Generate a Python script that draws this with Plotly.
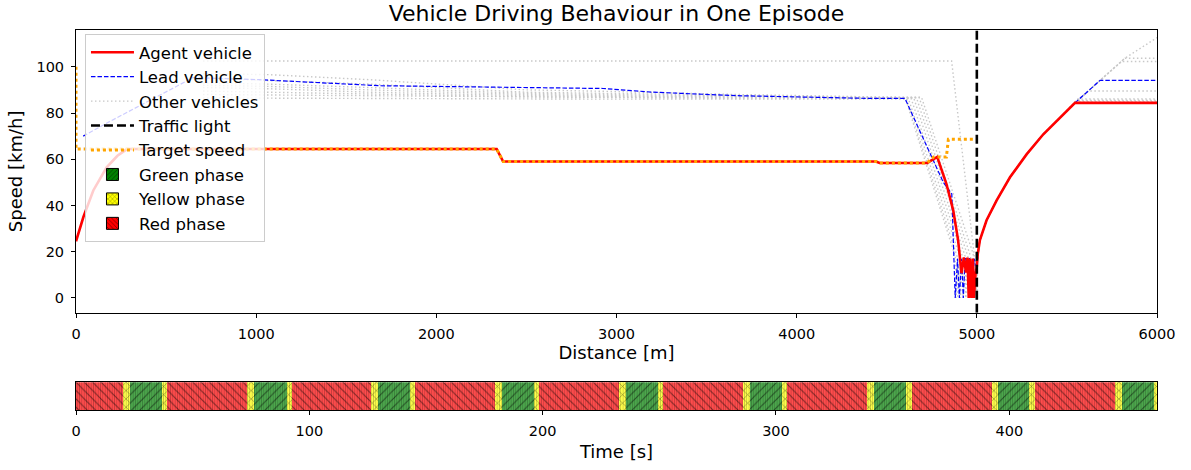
import plotly.graph_objects as go

# ------------------------------------------------------------------ data
# Agent vehicle (distance [m], speed [km/h])
agent_d = [0, 41, 96, 170, 230, 283, 2335, 2371, 4440, 4460, 4725, 4780, 4831, 4869,
           4896, 4915, 4928, 4940, 4948, 4955, 4962, 4970, 4978, 4984, 4992, 5000,
           5005, 5017, 5054, 5110, 5184, 5277, 5369, 5462, 5545, 6000]
agent_v = [24.5, 35, 46.5, 56.5, 61.5, 64.4, 64.4, 59.0, 59.0, 58.4, 58.4, 61.0, 49.4, 37.9,
           25.0, 10.7, 17.5, 11.0, 17.5, 0, 17, 0, 17, 0, 10, 13.6,
           19, 25, 33.6, 42.2, 52.2, 62.2, 70.8, 78, 84.4, 84.4]

# Lead vehicle
lead_d = [40, 189, 650, 1021, 1687, 2520, 2925, 3203, 3667, 4407, 4601, 4814, 4861, 4880,
          4893, 4903, 4915, 4925, 4935, 4960, 4975, 4985, 5000, 5005, 5017, 5054, 5110,
          5184, 5277, 5369, 5462, 5545, 5684, 6000]
lead_v = [70, 76.4, 95.3, 94.4, 91.8, 90.8, 90.6, 89.0, 87.5, 86.3, 86.3, 50, 45, 0,
          17, 0, 17, 0, 17, 17, 0, 17, 13, 19, 25, 33.6, 42.2,
          52.2, 62.2, 70.8, 78, 84.4, 94.1, 94.1]

# Other vehicles
other1_d = [705, 4860, 4985, 4990, 4996, 5000, 5005, 5017, 5054, 5110, 5184, 5277, 5369,
            5462, 5545, 5684, 5822, 5980, 6000]
other1_v = [102.5, 102.5, 19, 0, 16, 13, 19, 25, 33.6, 42.2, 52.2, 62.2, 70.8,
            78, 84.4, 94.1, 103.7, 111.6, 112.6]
other2_d = [705, 1066, 1632, 2500, 2925, 3667, 4400, 4693, 4980, 4984, 4992, 4997, 5003,
            5017, 5054, 5110, 5184, 5277, 5369, 5462, 5545, 5684, 5822, 6000]
other2_v = [97, 96.6, 94.4, 90, 89.4, 88, 87, 86.8, 19, 0, 16, 0, 16,
            25, 33.6, 42.2, 52.2, 62.2, 70.8, 78, 84.4, 94.1, 103.7, 103.7]
other3_d = [705, 1066, 1632, 2500, 2925, 3667, 4400, 4680, 4965, 4969, 4980, 4993, 4997, 5003,
            5017, 5054, 5110, 5184, 5277, 5369, 5462, 5545, 5684, 5804, 6000]
other3_v = [95, 94, 92.5, 89, 88.5, 87.5, 86.8, 86.7, 18, 0, 16, 16, 0, 16,
            25, 33.6, 42.2, 52.2, 62.2, 70.8, 78, 84.4, 94.1, 102.3, 102.3]
other4_d = [705, 1066, 1632, 2500, 2925, 3667, 4400, 4665, 4950, 4954, 4964, 4993, 4997, 5003,
            5017, 5054, 5110, 5184, 5277, 5369, 5462, 5545, 5620, 6000]
other4_v = [93, 92.5, 91, 88.5, 88, 87.2, 86.6, 86.6, 18, 0, 16, 16, 0, 16,
            25, 33.6, 42.2, 52.2, 62.2, 70.8, 78, 84.4, 89.5, 89.5]
other5_d = [705, 1066, 1632, 2500, 2925, 3667, 4400, 4650, 4935, 4939, 4950, 4993, 4997, 5003,
            5017, 5054, 5110, 5184, 5277, 5369, 5462, 5545, 5561, 6000]
other5_v = [92, 91.5, 90, 88, 87.5, 87, 86.5, 86.5, 18, 0, 16, 16, 0, 16,
            25, 33.6, 42.2, 52.2, 62.2, 70.8, 78, 84.4, 86.1, 86.1]
other6_d = [705, 1066, 1632, 2500, 2925, 3667, 4400, 4635, 4920, 4924, 4935, 4993, 4997, 5003,
            5017, 5054, 5110, 5184, 5277, 5369, 5462, 5545, 5552, 6000]
other6_v = [91, 90.5, 89, 87.5, 87.2, 86.8, 86.4, 86.4, 18, 0, 16, 16, 0, 16,
            25, 33.6, 42.2, 52.2, 62.2, 70.8, 78, 84.4, 85.3, 85.3]
other7_d = [705, 1066, 1632, 2500, 2925, 3667, 4400, 4620, 4905, 4909, 4920, 4993, 4997, 5003,
            5017, 5054, 5110, 5184, 5277, 5369, 5462, 5545, 5549, 6000]
other7_v = [89.5, 89, 88, 87, 86.8, 86.5, 86.3, 86.3, 18, 0, 16, 16, 0, 16,
            25, 33.6, 42.2, 52.2, 62.2, 70.8, 78, 84.4, 84.9, 84.9]
other8_d = [705, 1066, 1632, 2500, 2925, 3667, 4400, 4610, 4890, 4894, 4905, 4993, 4997, 5003,
            5017, 5054, 5110, 5184, 5277, 5369, 5462, 5545, 6000]
other8_v = [88, 87.8, 87.3, 86.8, 86.5, 86.3, 86.2, 86.2, 18, 0, 16, 16, 0, 16,
            25, 33.6, 42.2, 52.2, 62.2, 70.8, 78, 84.4, 84.4]
other9_d = [705, 1066, 1632, 2500, 2925, 3667, 4400, 4605, 4880, 4884, 4895, 4993, 4997, 5003,
            5017, 5054, 5110, 5184, 5277, 5369, 5462, 5545, 5555, 6000]
other9_v = [86.5, 86.4, 86.2, 86, 86, 86, 86, 86, 18, 0, 16, 16, 0, 16,
            25, 33.6, 42.2, 52.2, 62.2, 70.8, 78, 84.4, 85.6, 85.6]
others_d = [other1_d, other2_d, other3_d, other4_d, other5_d, other6_d, other7_d, other8_d, other9_d]
others_v = [other1_v, other2_v, other3_v, other4_v, other5_v, other6_v, other7_v, other8_v, other9_v]

# Target speed
target_d = [0, 0, 2335, 2371, 4440, 4460, 4723, 4760, 4831, 4842, 4980]
target_v = [100, 64.4, 64.4, 59.0, 59.0, 58.4, 58.4, 61.0, 61.0, 68.6, 68.6]

# Traffic light position [m]
traffic_light_d = 5000

# Traffic light phases over time [s]
phase_bounds = [0, 20.3, 23.1, 37.0, 39.1, 73.4, 76.4, 90.3, 92.4, 126.4, 129.3, 143.1,
                145.3, 179.6, 182.7, 196.3, 198.6, 232.7, 235.7, 249.3, 251.7, 286.0,
                288.9, 302.4, 304.9, 339.2, 342.0, 355.6, 358.2, 392.5, 395.0, 408.6,
                411.0, 445.4, 448.2, 461.8, 463.3]
phase_labels = ["R",
                "Y", "G", "Y", "R", "Y", "G", "Y", "R", "Y", "G", "Y", "R",
                "Y", "G", "Y", "R", "Y", "G", "Y", "R", "Y", "G", "Y", "R",
                "Y", "G", "Y", "R", "Y", "G", "Y", "R",
                "Y", "G", "Y"]

# axis settings
dist_ticks = [0, 1000, 2000, 3000, 4000, 5000, 6000]
speed_ticks = [0, 20, 40, 60, 80, 100]
time_ticks = [0, 100, 200, 300, 400]
speed_range = [-6.4, 115.9]
dist_range = [0, 6000]

# ------------------------------------------------------------------ figure
FONT = "DejaVu Sans"
fig = go.Figure()

# other vehicles
for i, (d, v) in enumerate(zip(others_d, others_v)):
    fig.add_trace(go.Scatter(
        x=d, y=v, mode="lines", name="Other vehicles",
        line=dict(color="#c8c8c8", width=1.4, dash="1.5px,2.5px"),
        legendgroup="others", showlegend=(i == 0), legendrank=3,
        xaxis="x", yaxis="y"))

# lead vehicle
fig.add_trace(go.Scatter(
    x=lead_d, y=lead_v, mode="lines", name="Lead vehicle",
    line=dict(color="#0000ff", width=1.2, dash="4.5px,2px"),
    legendgroup="lead", legendrank=2, xaxis="x", yaxis="y"))

# agent
fig.add_trace(go.Scatter(
    x=agent_d, y=agent_v, mode="lines", name="Agent vehicle",
    line=dict(color="#ff0000", width=2.6),
    legendgroup="agent", legendrank=1, xaxis="x", yaxis="y"))

# target speed
fig.add_trace(go.Scatter(
    x=target_d, y=target_v, mode="lines", name="Target speed",
    line=dict(color="#ffa500", width=3, dash="3px,3px"),
    legendgroup="target", legendrank=5, xaxis="x", yaxis="y"))

# traffic light
fig.add_trace(go.Scatter(
    x=[traffic_light_d, traffic_light_d], y=speed_range, mode="lines", name="Traffic light",
    line=dict(color="#000000", width=2.6, dash="9px,4px"),
    legendgroup="light", legendrank=4, xaxis="x", yaxis="y"))

# phase bars
phase_style = {
    "G": dict(name="Green phase", color="rgba(0,128,0,0.7)", legend_color="#008000", shape="/", rank=6),
    "Y": dict(name="Yellow phase", color="rgba(255,255,0,0.7)", legend_color="#ffff00", shape="x", rank=7),
    "R": dict(name="Red phase", color="rgba(255,0,0,0.7)", legend_color="#ff0000", shape="\\", rank=8),
}
PAT_SIZE = 5.9
for key in ["G", "Y", "R"]:
    st = phase_style[key]
    xs, ws = [], []
    for j, lab in enumerate(phase_labels):
        if lab == key:
            a, b = phase_bounds[j], phase_bounds[j + 1]
            xs.append((a + b) / 2)
            ws.append(b - a)
    fig.add_trace(go.Bar(
        x=xs, y=[1] * len(xs), width=ws, base=0, name=st["name"], showlegend=False,
        marker=dict(color=st["color"], line=dict(width=0),
                    pattern=dict(shape=st["shape"], fgcolor="black", size=PAT_SIZE,
                                 solidity=0.17)),
        xaxis="x2", yaxis="y2", hoverinfo="skip"))
    # legend entry with full colour
    fig.add_trace(go.Bar(
        x=[None], y=[None], name=st["name"], legendgroup=key, legendrank=st["rank"],
        marker=dict(color=st["legend_color"], line=dict(width=1, color="black"),
                    pattern=dict(shape=st["shape"], fgcolor="black", size=4, solidity=0.25)),
        xaxis="x2", yaxis="y2"))

# fine per-second stripes overlay
fig.add_trace(go.Bar(
    x=[(phase_bounds[0] + phase_bounds[-1]) / 2], y=[1],
    width=[phase_bounds[-1] - phase_bounds[0]], base=0, showlegend=False,
    marker=dict(color="rgba(0,0,0,0)", line=dict(width=0),
                pattern=dict(shape="|", fgcolor="black", fgopacity=0.22,
                             size=2.333, solidity=0.35, fillmode="overlay")),
    xaxis="x2", yaxis="y2", hoverinfo="skip"))

axis_common = dict(showline=True, linecolor="black", linewidth=1, mirror=True,
                   showgrid=False, zeroline=False, ticks="outside", ticklen=4,
                   tickcolor="black", tickwidth=1, ticklabelstandoff=4,
                   tickfont=dict(family=FONT, size=14.5, color="black"))

fig.update_layout(
    width=1191, height=470,
    margin=dict(l=76, r=34, t=30, b=57),
    paper_bgcolor="white", plot_bgcolor="white",
    barmode="overlay", bargap=0,
    font=dict(family=FONT, color="black"),
    title=dict(text="Vehicle Driving Behaviour in One Episode",
               font=dict(family=FONT, size=22, color="black"),
               x=0.5, xref="paper", xanchor="center",
               y=1 - 13 / 470, yref="container", yanchor="middle"),
    xaxis=dict(domain=[0, 1], range=dist_range, anchor="y", tickvals=dist_ticks,
               title=dict(text="Distance [m]", font=dict(family=FONT, size=18), standoff=5),
               **axis_common),
    yaxis=dict(domain=[0.2559, 1], range=speed_range, anchor="x", tickvals=speed_ticks,
               title=dict(text="Speed [km/h]", font=dict(family=FONT, size=18), standoff=9),
               **axis_common),
    xaxis2=dict(domain=[0, 1], range=[phase_bounds[0], phase_bounds[-1]], anchor="y2",
                tickvals=time_ticks,
                title=dict(text="Time [s]", font=dict(family=FONT, size=18), standoff=6),
                **axis_common),
    yaxis2=dict(domain=[0, 0.0731], range=[0, 1], anchor="x2", showline=True,
                linecolor="black", linewidth=1, mirror=True, showgrid=False,
                zeroline=False, ticks="", showticklabels=False, fixedrange=True),
    legend=dict(x=0.0083, y=0.9895, xanchor="left", yanchor="top",
                bgcolor="rgba(255,255,255,0.8)", bordercolor="#cccccc", borderwidth=1,
                font=dict(family=FONT, size=16.5, color="black"),
                traceorder="grouped", tracegroupgap=0, itemwidth=43),
    showlegend=True,
)

fig.write_html("out.html")
